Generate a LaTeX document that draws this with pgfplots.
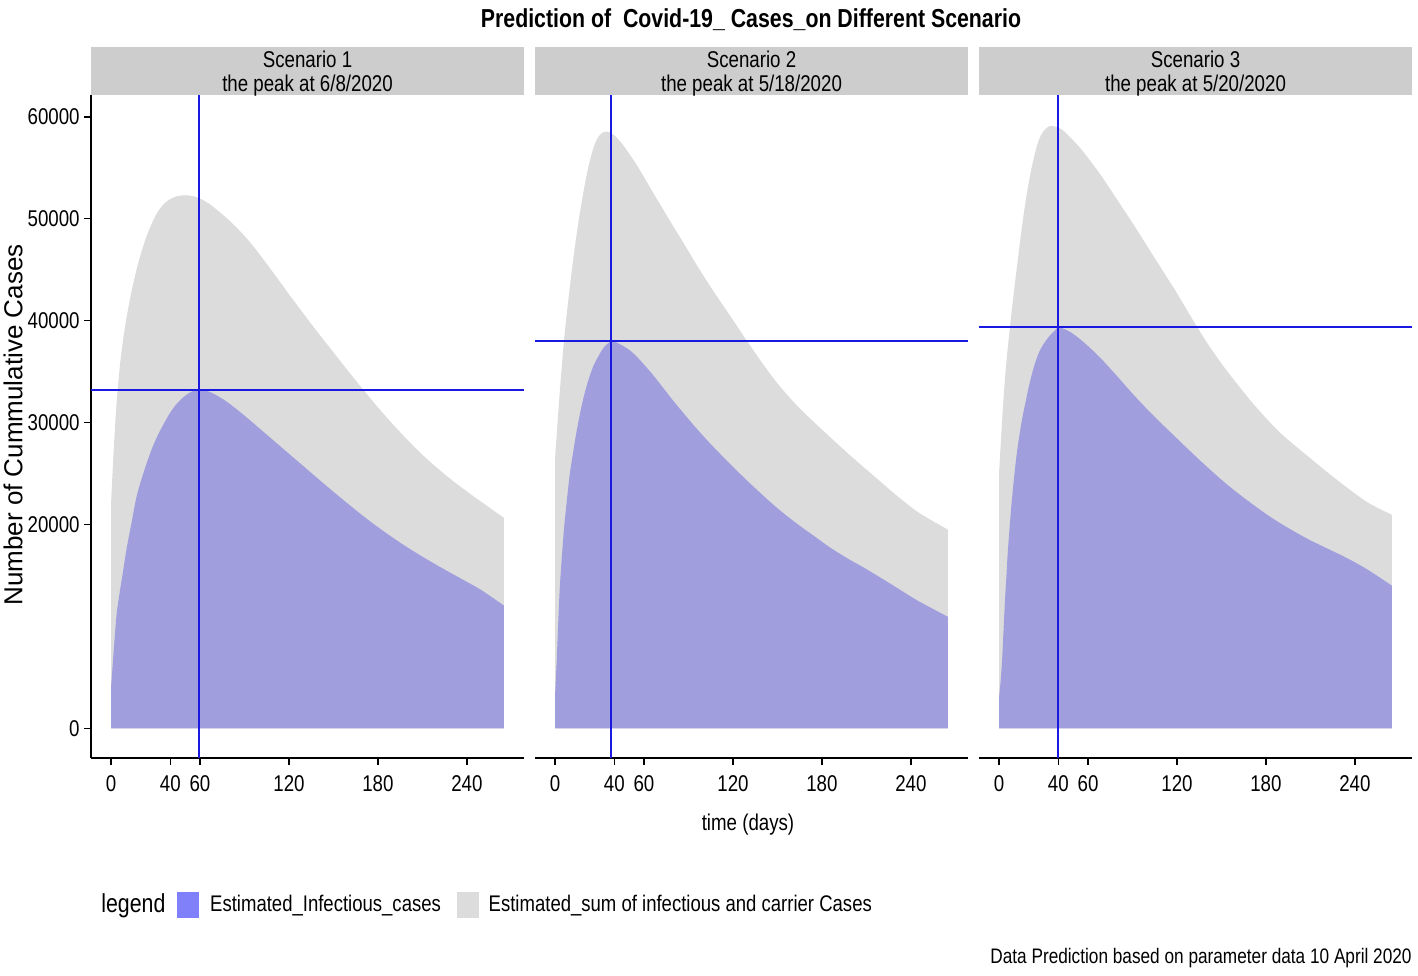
\documentclass[border=0pt]{standalone}
\usepackage{pgfplots}
\pgfplotsset{compat=1.18}
\usepackage{pgfplotstable}
\usepackage{fontspec}
\setmainfont{Liberation Sans}[FakeStretch=0.82]
\newfontfamily\widefont{Liberation Sans}
\definecolor{grayA}{RGB}{220,220,220}
\definecolor{blueA}{RGB}{160,158,220}
\definecolor{legblue}{RGB}{128,128,250}
\definecolor{stripg}{RGB}{205,205,205}
\definecolor{refblue}{RGB}{25,25,225}
\newcommand\fs{\fontsize{11.4bp}{12bp}\selectfont}

\pgfplotstableread{
day gray blue
0 22000 4000
1 25000 6000
2 27800 8000
3 30300 9900
4 32400 11500
6 35600 13500
8 38000 15300
10 39900 17200
12 41500 18800
14 43000 20300
17 44900 22600
20 46500 24200
24 48300 26000
28 49700 27600
32 50800 28900
36 51500 30000
40 51950 31000
44 52200 31800
48 52300 32400
52 52300 32850
56 52200 33150
59 52050 33235
62 51850 33200
66 51500 33050
70 51050 32780
75 50450 32350
80 49800 31850
87 48800 31050
94 47650 30200
100 46550 29450
110 44600 28200
120 42600 26950
130 40650 25700
140 38750 24450
150 36900 23220
160 35050 22020
170 33250 20850
180 31500 19750
190 29850 18720
200 28300 17750
210 26850 16850
220 25550 16000
230 24350 15180
240 23250 14380
250 22200 13550
265 20650 12050
}\scenA

\pgfplotstableread{
day gray blue
0 26500 3200
1 28500 6200
2 30600 9800
3 32600 13200
4 34500 15600
6 38000 19500
8 40800 22400
10 43300 25000
12 45700 26900
14 47900 28700
17 50800 31000
20 53300 32900
23 55400 34400
26 57000 35600
29 58000 36450
32 58450 37200
35 58550 37700
38 58400 37970
41 58050 37900
45 57400 37600
50 56400 37150
55 55300 36500
60 54100 35700
66 52600 34700
73 50900 33400
80 49200 32100
88 47300 30700
95 45600 29500
105 43300 27900
118 40500 25950
130 37900 24250
140 35800 22900
150 33850 21600
163 31700 20100
175 30000 18850
185 28650 17800
197 27050 16700
208 25650 15800
220 24150 14750
230 22900 13850
245 21200 12500
265 19500 10950
}\scenB

\pgfplotstableread{
day gray blue
0 25000 3000
1 27500 4500
2 30000 6500
3 32300 9500
4 34300 12500
5 36000 15000
6 37500 17500
8 40200 21300
10 42800 24400
12 45200 27000
15 48700 29900
18 51800 32100
21 54300 34100
24 56300 35700
27 57800 36900
30 58600 37700
34 59100 38500
38 59050 39100
40 58950 39350
43 58700 39250
48 58000 38900
55 56900 38150
62 55600 37250
70 54000 36100
80 51800 34500
90 49600 32850
100 47300 31300
110 45000 29850
120 42700 28450
130 40250 27050
140 37900 25700
150 35800 24400
160 33900 23200
170 32100 22100
180 30450 21050
190 28950 20100
200 27700 19250
210 26500 18450
220 25300 17750
230 24150 17050
240 23050 16300
250 22050 15450
265 20950 14000
}\scenC

\pgfplotsset{panel/.style={
  scale only axis, width=216.5bp, height=331.5bp,
  xmin=-13.5, xmax=278.5, ymin=-2900, ymax=62150,
  axis x line*=bottom,
  axis line style={line width=1bp, black},
  xtick={0,40,60,120,180,240},
  xticklabels={0,40,60,120,180,240},
  tick align=outside, major tick length=3.5bp,
  every tick/.style={line width=0.6bp, black},
  tick label style={font=\fs},
  /pgf/number format/assume math mode=true,
  xticklabel style={inner sep=0pt, anchor=north, yshift=-5bp},
  clip=false,
}}

\begin{document}
\begin{tikzpicture}
\useasboundingbox (0,0) rectangle (709bp,488bp);

% Panel 1
\begin{axis}[panel, at={(45.5bp,109bp)}, anchor=south west,
  axis y line*=left,
  ytick={0,20000,30000,40000,50000,60000},
  yticklabels={0,20000,30000,40000,50000,60000},
  yticklabel style={inner sep=0pt, anchor=east, xshift=-2bp},
  legend style={at={(0.023,-0.2217)}, anchor=west, draw=none, fill=none,
    legend columns=-1, font=\fontsize{11.3bp}{12bp}\selectfont, inner sep=0pt, nodes={inner sep=0pt},
    /tikz/column 1/.style={column sep=0bp},
    /tikz/column 2/.style={column sep=6bp},
    /tikz/column 3/.style={column sep=5.5bp},
    /tikz/column 4/.style={column sep=8bp},
    /tikz/column 5/.style={column sep=5bp}},
]
\addplot[fill=grayA, draw=none, smooth, tension=0.5, forget plot] table[x=day, y=gray] {\scenA} \closedcycle;
\addplot[fill=blueA, draw=none, smooth, tension=0.5, forget plot] table[x=day, y=blue] {\scenA} \closedcycle;
\addplot[refblue, line width=1bp, forget plot] coordinates {(59,-2900) (59,62150)};
\addplot[refblue, line width=1bp, forget plot] coordinates {(-13.5,33235) (278.5,33235)};
\fill[stripg] (rel axis cs:0,1) rectangle ([yshift=24bp]rel axis cs:1,1);
\node[font=\fs, align=center] at ([yshift=10.5bp]rel axis cs:0.5,1) {Scenario 1\\the peak at 6/8/2020};
\addlegendimage{empty legend}
\addlegendentry{\fontsize{13bp}{14bp}\selectfont legend}
\addlegendimage{legend image code/.code={\fill[legblue] (0bp,-6.25bp) rectangle (10.5bp,6.25bp);}}
\addlegendentry{Estimated\_Infectious\_cases}
\addlegendimage{legend image code/.code={\fill[grayA] (0bp,-6.25bp) rectangle (10.5bp,6.25bp);}}
\addlegendentry{Estimated\_sum of infectious and carrier Cases}
\end{axis}

% Panel 2
\begin{axis}[panel, at={(267.5bp,109bp)}, anchor=south west,
  axis y line=none, ytick=\empty]
\addplot[fill=grayA, draw=none, smooth, tension=0.5] table[x=day, y=gray] {\scenB} \closedcycle;
\addplot[fill=blueA, draw=none, smooth, tension=0.5] table[x=day, y=blue] {\scenB} \closedcycle;
\addplot[refblue, line width=1bp] coordinates {(38,-2900) (38,62150)};
\addplot[refblue, line width=1.3bp] coordinates {(-13.5,38000) (278.5,38000)};
\fill[stripg] (rel axis cs:0,1) rectangle ([yshift=24bp]rel axis cs:1,1);
\node[font=\fs, align=center] at ([yshift=10.5bp]rel axis cs:0.5,1) {Scenario 2\\the peak at 5/18/2020};
\end{axis}

% Panel 3
\begin{axis}[panel, at={(489.5bp,109bp)}, anchor=south west,
  axis y line=none, ytick=\empty]
\addplot[fill=grayA, draw=none, smooth, tension=0.5] table[x=day, y=gray] {\scenC} \closedcycle;
\addplot[fill=blueA, draw=none, smooth, tension=0.5] table[x=day, y=blue] {\scenC} \closedcycle;
\addplot[refblue, line width=1bp] coordinates {(40,-2900) (40,62150)};
\addplot[refblue, line width=1bp] coordinates {(-13.5,39400) (278.5,39400)};
\fill[stripg] (rel axis cs:0,1) rectangle ([yshift=24bp]rel axis cs:1,1);
\node[font=\fs, align=center] at ([yshift=10.5bp]rel axis cs:0.5,1) {Scenario 3\\the peak at 5/20/2020};
\end{axis}

\node[font=\bfseries\fontsize{13bp}{14bp}\selectfont] at (375.5bp,478bp) {Prediction of~ Covid-19\_ Cases\_on Different Scenario};
\node[rotate=90, font=\widefont\fontsize{13bp}{14bp}\selectfont] at (6.5bp,275.5bp) {Number of Cummulative Cases};
\node[font=\fs] at (374bp,75.5bp) {time (days)};
\node[anchor=east, inner sep=0pt, font=\fontsize{10.5bp}{12bp}\selectfont] at (706bp,9bp) {Data Prediction based on parameter data 10 April 2020};
\end{tikzpicture}
\end{document}
